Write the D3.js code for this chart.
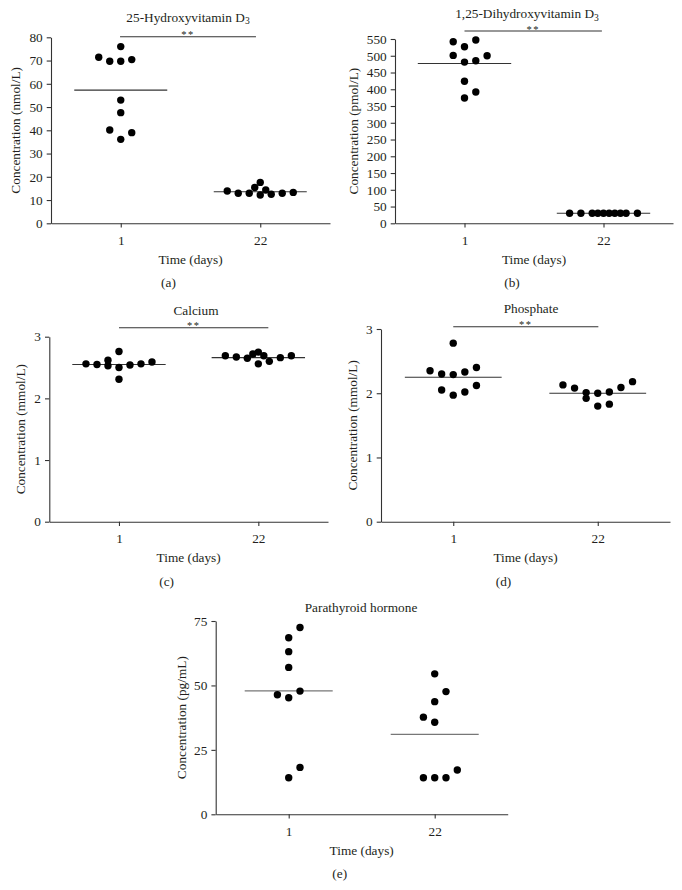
<!DOCTYPE html>
<html>
<head>
<meta charset="utf-8">
<script src="https://cdn.jsdelivr.net/npm/d3@7"></script>
<style>
  html, body { margin: 0; padding: 0; background: #fff; }
  svg { display: block; }
  text { font-family: "Liberation Serif", "Times New Roman", serif; fill: #231f20; }
</style>
</head>
<body>
<svg id="chart" width="682" height="890"></svg>
<script>
// ---------- DATA ----------
const days = ["1", "22"];

// (a) 25-Hydroxyvitamin D3 (nmol/L)
const hydroxyDay1 = [71.4, 69.7, 69.7, 70.4, 76.0, 53.0, 47.6, 40.1, 36.1, 39.0];
const hydroxyDay1Slot = [-2, -1, 0, 1, 0, 0, 0, -1, 0, 1];
const hydroxyDay22 = [13.9, 12.9, 12.9, 15.4, 17.6, 12.2, 14.3, 12.5, 12.9, 13.3];
const hydroxyDay22Slot = [-3, -2, -1, -0.5, 0, 0, 0.5, 1, 2, 3];
const hydroxyMeans = [57.3, 13.6];
const hydroxyTicks = [0, 10, 20, 30, 40, 50, 60, 70, 80];

// (b) 1,25-Dihydroxyvitamin D3 (pmol/L)
const dihydroxyDay1 = [542, 527, 547, 501, 481, 485, 500, 424, 392, 374];
const dihydroxyDay1Slot = [-1, 0, 1, -1, 0, 1, 2, 0, 1, 0];
const dihydroxyDay22 = [30, 30, 30, 30, 30, 30, 30, 30, 30, 30];
const dihydroxyDay22Slot = [-3, -2, -1, -0.5, 0, 0.5, 1, 1.5, 2, 3];
const dihydroxyMeans = [477, 30];
const dihydroxyTicks = [0, 50, 100, 150, 200, 250, 300, 350, 400, 450, 500, 550];

// (c) Calcium (mmol/L)
const calciumDay1 = [2.56, 2.55, 2.62, 2.53, 2.76, 2.50, 2.31, 2.54, 2.56, 2.59];
const calciumDay1Slot = [-3, -2, -1, -1, 0, 0, 0, 1, 2, 3];
const calciumDay22 = [2.69, 2.67, 2.65, 2.72, 2.75, 2.69, 2.56, 2.60, 2.66, 2.69];
const calciumDay22Slot = [-3, -2, -1, -0.5, 0, 0.5, 0, 1, 2, 3];
const calciumMeans = [2.55, 2.66];
const calciumTicks = [0, 1, 2, 3];

// (d) Phosphate (mmol/L)
const phosphateDay1 = [2.35, 2.30, 2.29, 2.33, 2.40, 2.78, 2.05, 1.97, 2.02, 2.12];
const phosphateDay1Slot = [-2, -1, 0, 1, 2, 0, -1, 0, 1, 2];
const phosphateDay22 = [2.13, 2.08, 2.01, 1.92, 2.00, 1.80, 2.02, 1.83, 2.09, 2.18];
const phosphateDay22Slot = [-3, -2, -1, -1, 0, 0, 1, 1, 2, 3];
const phosphateMeans = [2.25, 2.00];
const phosphateTicks = [0, 1, 2, 3];

// (e) Parathyroid hormone (pg/mL)
const pthDay1 = [68.5, 63.1, 72.5, 57.0, 46.4, 45.2, 47.8, 18.2, 14.2];
const pthDay1Slot = [0, 0, 1, 0, -1, 0, 1, 1, 0];
const pthDay22 = [54.5, 47.6, 43.7, 37.7, 35.7, 14.2, 14.2, 14.2, 17.2];
const pthDay22Slot = [0, 1, 0, -1, 0, -1, 0, 1, 2];
const pthMeans = [47.9, 31.0];
const pthTicks = [0, 25, 50, 75];

// ---------- PANELS ----------
const panels = [
  { title: "25-Hydroxyvitamin D", sub: "3", yLabel: "Concentration (nmol/L)", letter: "(a)",
    day1: hydroxyDay1, slot1: hydroxyDay1Slot, day22: hydroxyDay22, slot22: hydroxyDay22Slot,
    means: hydroxyMeans, ticks: hydroxyTicks, sig: true,
    L: 51, R: 330, T: 37.3, B: 223.3, titleX: 188, titleY: 17, sigY: 36.7, sig0: -0.7, sig1: -4.3,
    yLabX: 15, step: 11, half: 46.5 },
  { title: "1,25-Dihydroxyvitamin D", sub: "3", yLabel: "Concentration (pmol/L)", letter: "(b)",
    day1: dihydroxyDay1, slot1: dihydroxyDay1Slot, day22: dihydroxyDay22, slot22: dihydroxyDay22Slot,
    means: dihydroxyMeans, ticks: dihydroxyTicks, sig: true,
    L: 395, R: 673, T: 39, B: 223.3, titleX: 527, titleY: 13.5, sigY: 31, sig0: 0, sig1: -1.6,
    yLabX: 353, step: 11.3, half: 46.7 },
  { title: "Calcium", sub: "", yLabel: "Concentration (mmol/L)", letter: "(c)",
    day1: calciumDay1, slot1: calciumDay1Slot, day22: calciumDay22, slot22: calciumDay22Slot,
    means: calciumMeans, ticks: calciumTicks, sig: true,
    L: 49.3, R: 328, T: 336.7, B: 521.7, titleX: 196, titleY: 310, sigY: 327.7, sig0: 0, sig1: 10,
    yLabX: 20, step: 11, half: 46.7 },
  { title: "Phosphate", sub: "", yLabel: "Concentration (mmol/L)", letter: "(d)",
    day1: phosphateDay1, slot1: phosphateDay1Slot, day22: phosphateDay22, slot22: phosphateDay22Slot,
    means: phosphateMeans, ticks: phosphateTicks, sig: true,
    L: 381, R: 670, T: 329, B: 521.7, titleX: 531, titleY: 308, sigY: 326.7, sig0: 0, sig1: 0.6,
    yLabX: 352, step: 11.6, half: 48.4 },
  { title: "Parathyroid hormone", sub: "", yLabel: "Concentration (pg/mL)", letter: "(e)",
    day1: pthDay1, slot1: pthDay1Slot, day22: pthDay22, slot22: pthDay22Slot,
    means: pthMeans, ticks: pthTicks, sig: false,
    L: 215.7, R: 507.7, T: 621, B: 814.3, titleX: 361, titleY: 607.7,
    yLabX: 181, step: 11.3, half: 44 }
];

const svg = d3.select("#chart");
const FS = 13.3;
const axisColor = "#333";

panels.forEach(p => {
  const g = svg.append("g");
  const x = d3.scalePoint().domain(days).range([p.L, p.R]).padding(0.5);
  const yMax = p.ticks[p.ticks.length - 1];
  const y = d3.scaleLinear().domain([0, yMax]).range([p.B, p.T]);

  // Y axis
  const ya = g.append("g").attr("transform", `translate(${p.L},0)`)
    .call(d3.axisLeft(y).tickValues(p.ticks).tickSize(4.3).tickSizeOuter(0).tickPadding(4).tickFormat(d3.format("d")));
  // X axis
  const xa = g.append("g").attr("transform", `translate(0,${p.B})`)
    .call(d3.axisBottom(x).tickSize(4.3).tickSizeOuter(0).tickPadding(7.5));
  [ya, xa].forEach(a => {
    a.select(".domain").attr("stroke", axisColor).attr("stroke-width", 1.1);
    a.selectAll(".tick line").attr("stroke", axisColor).attr("stroke-width", 1.1);
    a.selectAll(".tick text").attr("font-family", "Liberation Serif, Times New Roman, serif")
      .attr("font-size", FS).attr("fill", "#231f20");
  });

  // Title
  const t = g.append("text").attr("x", p.titleX).attr("y", p.titleY).attr("dy", "0.35em")
    .attr("text-anchor", "middle").attr("font-size", FS).text(p.title);
  if (p.sub) {
    t.append("tspan").attr("font-size", FS * 0.72).attr("dy", "0.25em").text(p.sub);
  }

  // Y label
  g.append("text")
    .attr("transform", `translate(${p.yLabX},${(p.T + p.B) / 2}) rotate(-90)`)
    .attr("text-anchor", "middle").attr("dy", "0.35em").attr("font-size", FS)
    .text(p.yLabel);

  // X label
  g.append("text").attr("x", (p.L + p.R) / 2).attr("y", p.B + 36).attr("dy", "0.35em")
    .attr("text-anchor", "middle").attr("font-size", FS).text("Time (days)");

  // Panel letter
  g.append("text").attr("x", (p.L + p.R) / 2 - 22).attr("y", p.B + 59.5).attr("dy", "0.35em")
    .attr("text-anchor", "middle").attr("font-size", FS).text(p.letter);

  // Significance bar
  if (p.sig) {
    g.append("line")
      .attr("x1", x(days[0]) + p.sig0).attr("x2", x(days[1]) + p.sig1)
      .attr("y1", p.sigY).attr("y2", p.sigY)
      .attr("stroke", "#333").attr("stroke-width", 1.1);
    g.append("text")
      .attr("x", (x(days[0]) + p.sig0 + x(days[1]) + p.sig1) / 2)
      .attr("y", p.sigY + 1.5)
      .attr("text-anchor", "middle").attr("font-size", 10.5).attr("fill", "#555")
      .attr("letter-spacing", "1.5px")
      .text("**");
  }

  // Mean lines
  g.selectAll(".mean").data(p.means).join("line")
    .attr("x1", (d, i) => x(days[i]) - p.half)
    .attr("x2", (d, i) => x(days[i]) + p.half)
    .attr("y1", d => y(d)).attr("y2", d => y(d))
    .attr("stroke", p.sig ? "#333" : "#777").attr("stroke-width", p.sig ? 1.1 : 1.4);

  // Dots
  const pts = [];
  p.day1.forEach((v, i) => pts.push({ day: days[0], v, s: p.slot1[i] }));
  p.day22.forEach((v, i) => pts.push({ day: days[1], v, s: p.slot22[i] }));
  g.selectAll(".dot").data(pts).join("circle")
    .attr("cx", d => x(d.day) + d.s * p.step)
    .attr("cy", d => y(d.v))
    .attr("r", 3.7)
    .attr("fill", "#000");
});
</script>
</body>
</html>
